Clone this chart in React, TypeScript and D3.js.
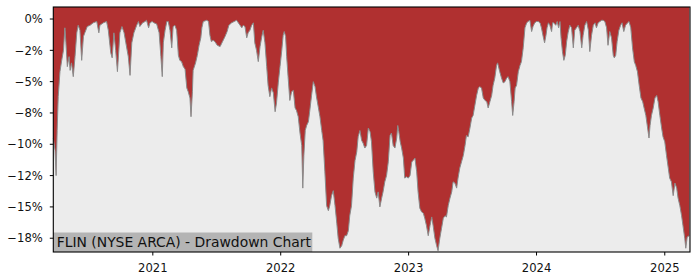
import React from "react";
import * as d3 from "d3";

// ---- data ----
const startDate = "2020-03-23";
const endOffset = 1817; // days covered by the x axis
const dayOffsets = [
  0, 5, 8, 11, 14, 19, 24, 29, 33, 36, 40, 45, 48, 52, 57, 62, 67, 71, 76, 81, 86, 90, 97, 105, 114, 124, 130, 133, 143, 152,
  157, 164, 168, 173, 178, 183, 187, 190, 196, 202, 207, 214, 219, 224, 230, 238, 243, 247, 255, 262, 266, 272, 276, 282, 287, 295,
  302, 307, 311, 314, 319, 324, 328, 333, 338, 342, 347, 352, 357, 361, 366, 371, 376, 381, 385, 390, 393, 397, 399, 406, 411, 416,
  421, 424, 428, 438, 443, 447, 451, 456, 461, 468, 476, 483, 490, 496, 501, 509, 516, 523, 533, 538, 542, 547, 552, 556, 561, 566,
  571, 575, 580, 585, 590, 595, 599, 604, 609, 613, 618, 623, 628, 633, 637, 642, 647, 652, 656, 659, 663, 666, 670, 675, 680, 685,
  690, 694, 699, 704, 709, 712, 715, 719, 723, 728, 732, 737, 742, 747, 751, 756, 761, 766, 770, 775, 780, 785, 789, 794, 799, 804,
  809, 813, 818, 823, 827, 832, 837, 842, 846, 851, 856, 861, 866, 870, 875, 880, 884, 889, 894, 899, 904, 908, 913, 918, 923, 927,
  932, 937, 941, 946, 951, 956, 961, 965, 970, 975, 980, 983, 986, 990, 994, 999, 1003, 1008, 1013, 1018, 1023, 1027, 1032, 1037,
  1041, 1046, 1051, 1056, 1060, 1065, 1070, 1075, 1080, 1084, 1089, 1094, 1098, 1103, 1108, 1113, 1118, 1122, 1127, 1132, 1137,
  1141, 1146, 1151, 1155, 1160, 1165, 1170, 1175, 1179, 1184, 1189, 1194, 1198, 1203, 1208, 1213, 1217, 1222, 1227, 1232, 1237,
  1241, 1246, 1251, 1255, 1260, 1265, 1268, 1274, 1279, 1284, 1289, 1294, 1298, 1303, 1308, 1311, 1315, 1318, 1322, 1327, 1332,
  1336, 1341, 1346, 1351, 1355, 1360, 1365, 1369, 1374, 1379, 1384, 1389, 1393, 1398, 1402, 1406, 1409, 1413, 1417, 1422, 1425,
  1428, 1434, 1438, 1442, 1446, 1449, 1453, 1457, 1461, 1465, 1469, 1474, 1479, 1484, 1488, 1493, 1498, 1503, 1508, 1512, 1517,
  1522, 1527, 1531, 1536, 1541, 1546, 1550, 1555, 1560, 1565, 1569, 1574, 1579, 1583, 1588, 1593, 1598, 1601, 1605, 1609, 1614,
  1619, 1623, 1628, 1633, 1639, 1643, 1648, 1653, 1658, 1662, 1667, 1672, 1677, 1682, 1686, 1691, 1696, 1700, 1703, 1707, 1712,
  1717, 1722, 1726, 1731, 1736, 1740, 1745, 1750, 1755, 1759, 1764, 1769, 1774, 1779, 1783, 1788, 1793, 1797, 1802, 1805, 1809, 1815,
];
const drawdown = [
  -9.5, -10.5, -12.5, -8.9, -6.2, -4.2, -3.3, -2.5, -0.7, -1.9, -3.8, -3.0, -4.1, -3.5, -4.6, -3.0, -1.1, -0.5, -0.9, -3.3, -1.4, -1.1, -0.6, -0.5, -0.3, -0.2, -1.1, -0.5, -0.3, -0.2,
  -0.9, -2.7, -3.1, -1.1, -2.5, -4.2, -2.5, -1.1, -0.6, -1.1, -1.9, -3.0, -4.5, -1.9, -1.1, -0.5, -0.2, -0.6, -0.3, -0.2, -0.1, -0.7, -0.3, -0.2, -0.3, -0.4,
  -1.1, -3.0, -4.6, -1.9, -0.9, -0.2, -0.2, -0.9, -2.3, -0.6, -0.5, -0.9, -2.9, -3.3, -3.4, -3.8, -4.0, -5.5, -5.8, -6.3, -7.8, -5.8, -4.1, -3.5, -2.9, -2.1,
  -1.5, -0.7, -0.2, -0.1, -0.2, -1.3, -1.8, -1.7, -1.8, -2.1, -2.2, -1.8, -1.4, -1.0, -0.5, -0.3, -0.2, -0.1, -0.5, -0.7, -0.5, -0.6, -1.5, -1.1, -0.9, -0.5,
  -0.3, -1.9, -2.5, -3.4, -2.2, -1.4, -0.9, -1.9, -3.8, -5.3, -6.2, -5.5, -5.9, -7.4, -6.7, -5.1, -3.8, -2.5, -1.3, -1.0, -1.4, -3.0, -4.6, -6.5, -5.8, -5.7,
  -7.1, -7.3, -7.8, -9.1, -10.1, -13.5, -10.9, -8.9, -8.5, -8.2, -7.3, -6.1, -5.0, -5.4, -6.2, -7.0, -7.8, -8.9, -9.7, -12.2, -14.9, -15.3, -14.9, -14.1, -13.7, -14.9,
  -16.3, -17.5, -18.3, -18.1, -17.7, -17.3, -17.3, -16.9, -15.7, -14.9, -12.7, -11.3, -10.6, -9.4, -8.9, -9.7, -9.9, -10.3, -10.1, -8.7, -9.0, -9.8, -12.2, -13.8, -14.3, -13.8,
  -15.0, -14.3, -13.8, -13.0, -12.5, -11.4, -9.3, -9.1, -10.1, -10.3, -9.5, -8.5, -9.0, -9.8, -10.3, -11.1, -12.7, -12.6, -12.7, -12.5, -11.4, -11.3, -11.1, -12.2,
  -13.8, -15.1, -15.4, -15.5, -15.9, -16.5, -17.3, -16.5, -15.8, -16.5, -17.5, -18.1, -18.5, -17.5, -16.7, -15.9, -15.7, -15.8, -14.9, -14.3, -13.8,
  -13.0, -13.1, -13.5, -12.7, -11.9, -11.4, -10.9, -10.1, -9.3, -9.4, -8.7, -7.9, -7.7, -6.9, -6.1, -5.5, -5.4, -5.5, -6.3, -6.5, -6.6,
  -7.1, -6.6, -6.1, -5.3, -4.7, -3.7, -3.5, -4.2, -4.7, -5.1, -5.0, -4.7, -4.6, -5.0, -6.6, -7.7, -6.6, -5.5, -5.3, -4.2, -3.7,
  -3.4, -2.3, -0.7, -0.3, -0.2, -0.1, -1.0, -0.6, -0.3, -0.2, -0.2, -0.3, -0.7, -1.4, -1.9, -1.3, -0.7, -0.3, -0.5, -1.0, -0.3,
  -0.3, -0.5, -0.2, -0.7, -0.2, -1.5, -2.6, -3.3, -2.9, -1.8, -1.1, -0.5, -0.7, -2.3, -0.9, -0.7, -0.5, -1.0, -2.3, -1.3, -0.5,
  -0.2, -0.9, -2.6, -1.3, -0.5, -0.3, -0.7, -0.3, -0.2, -0.1, -0.1, -0.2, -0.7, -2.1, -1.0, -1.5, -2.9, -3.1, -2.9, -1.8, -0.9,
  -0.5, -0.3, -1.0, -0.5, -0.3, -0.2, -0.7, -2.3, -3.4, -3.7, -4.2, -5.3, -6.3, -6.6, -7.1, -7.7, -8.7, -9.5, -8.5, -7.7, -7.1,
  -6.3, -6.1, -6.6, -7.7, -8.7, -9.4, -9.8, -10.9, -11.9, -12.7, -13.0, -14.1, -13.1, -13.5, -14.3, -14.9, -15.7, -16.5, -17.5, -18.3, -17.4, -17.3,
];
const yTickValues = [0, -2.5, -5, -7.5, -10, -12.5, -15, -17.5];
const yTickLabels = ["0%", "\u22122%", "\u22125%", "\u22128%", "\u221210%", "\u221212%", "\u221215%", "\u221218%"];
const xTickYears = [2021, 2022, 2023, 2024, 2025];
const titleText = "FLIN (NYSE ARCA) - Drawdown Chart";

// ---- layout ----
const W = 700;
const H = 280;
const M = { left: 53.3, right: 10, top: 7, bottom: 28 };
const Y_MIN = -18.6;
const Y_MAX = 0.96;

export default function App() {
  const start = new Date(startDate + "T00:00:00");
  const points = dayOffsets.map((d, i) => ({ date: d3.timeDay.offset(start, d), v: drawdown[i] }));

  const x = d3
    .scaleTime()
    .domain([start, d3.timeDay.offset(start, endOffset)])
    .range([M.left, W - M.right]);
  const y = d3.scaleLinear().domain([Y_MIN, Y_MAX]).range([H - M.bottom, M.top]);

  const [x0, x1] = x.range();
  const [yb, yt] = y.range();

  const area = d3
    .area<{ date: Date; v: number }>()
    .x((d) => x(d.date))
    .y0(yt)
    .y1((d) => y(d.v));
  const line = d3
    .line<{ date: Date; v: number }>()
    .x((d) => x(d.date))
    .y((d) => y(d.v));

  const font = "'DejaVu Sans', sans-serif";
  const titleFont = 13.9;
  const tickFont = 11.6;
  const titleW = 259;
  const titleH = 19.5;

  return (
    <svg
      width={W}
      height={H}
      style={{ position: "absolute", left: 0, top: 0, background: "#fff" }}
      fontFamily={font}
    >
      <rect x={x0} y={yt} width={x1 - x0} height={yb - yt} fill="#ececec" />
      <path d={area(points) || ""} fill="#b03030" />
      <path d={line(points) || ""} fill="none" stroke="#8a8a8a" strokeWidth={1} />

      {/* title box */}
      <rect x={x0} y={yb - titleH} width={titleW} height={titleH} fill="#b4b4b4" />
      <text x={x0 + 3.4} y={yb - 4.6} fontSize={titleFont} fill="#111">
        {titleText}
      </text>

      {/* frame */}
      <rect x={x0} y={yt} width={x1 - x0} height={yb - yt} fill="none" stroke="#000" strokeWidth={1.1} />

      {/* y ticks */}
      {yTickValues.map((v, i) => (
        <g key={"y" + i}>
          <line x1={x0 - 3.5} x2={x0} y1={y(v)} y2={y(v)} stroke="#000" strokeWidth={1} />
          <text x={x0 - 10.5} y={y(v)} dy="0.36em" textAnchor="end" fontSize={tickFont} fill="#111">
            {yTickLabels[i]}
          </text>
        </g>
      ))}

      {/* x ticks */}
      {xTickYears.map((yr) => {
        const xx = x(new Date(yr, 0, 1));
        return (
          <g key={"x" + yr}>
            <line x1={xx} x2={xx} y1={yb} y2={yb + 3.5} stroke="#000" strokeWidth={1} />
            <text x={xx} y={yb + 19.5} textAnchor="middle" fontSize={tickFont} fill="#111">
              {yr}
            </text>
          </g>
        );
      })}
    </svg>
  );
}
